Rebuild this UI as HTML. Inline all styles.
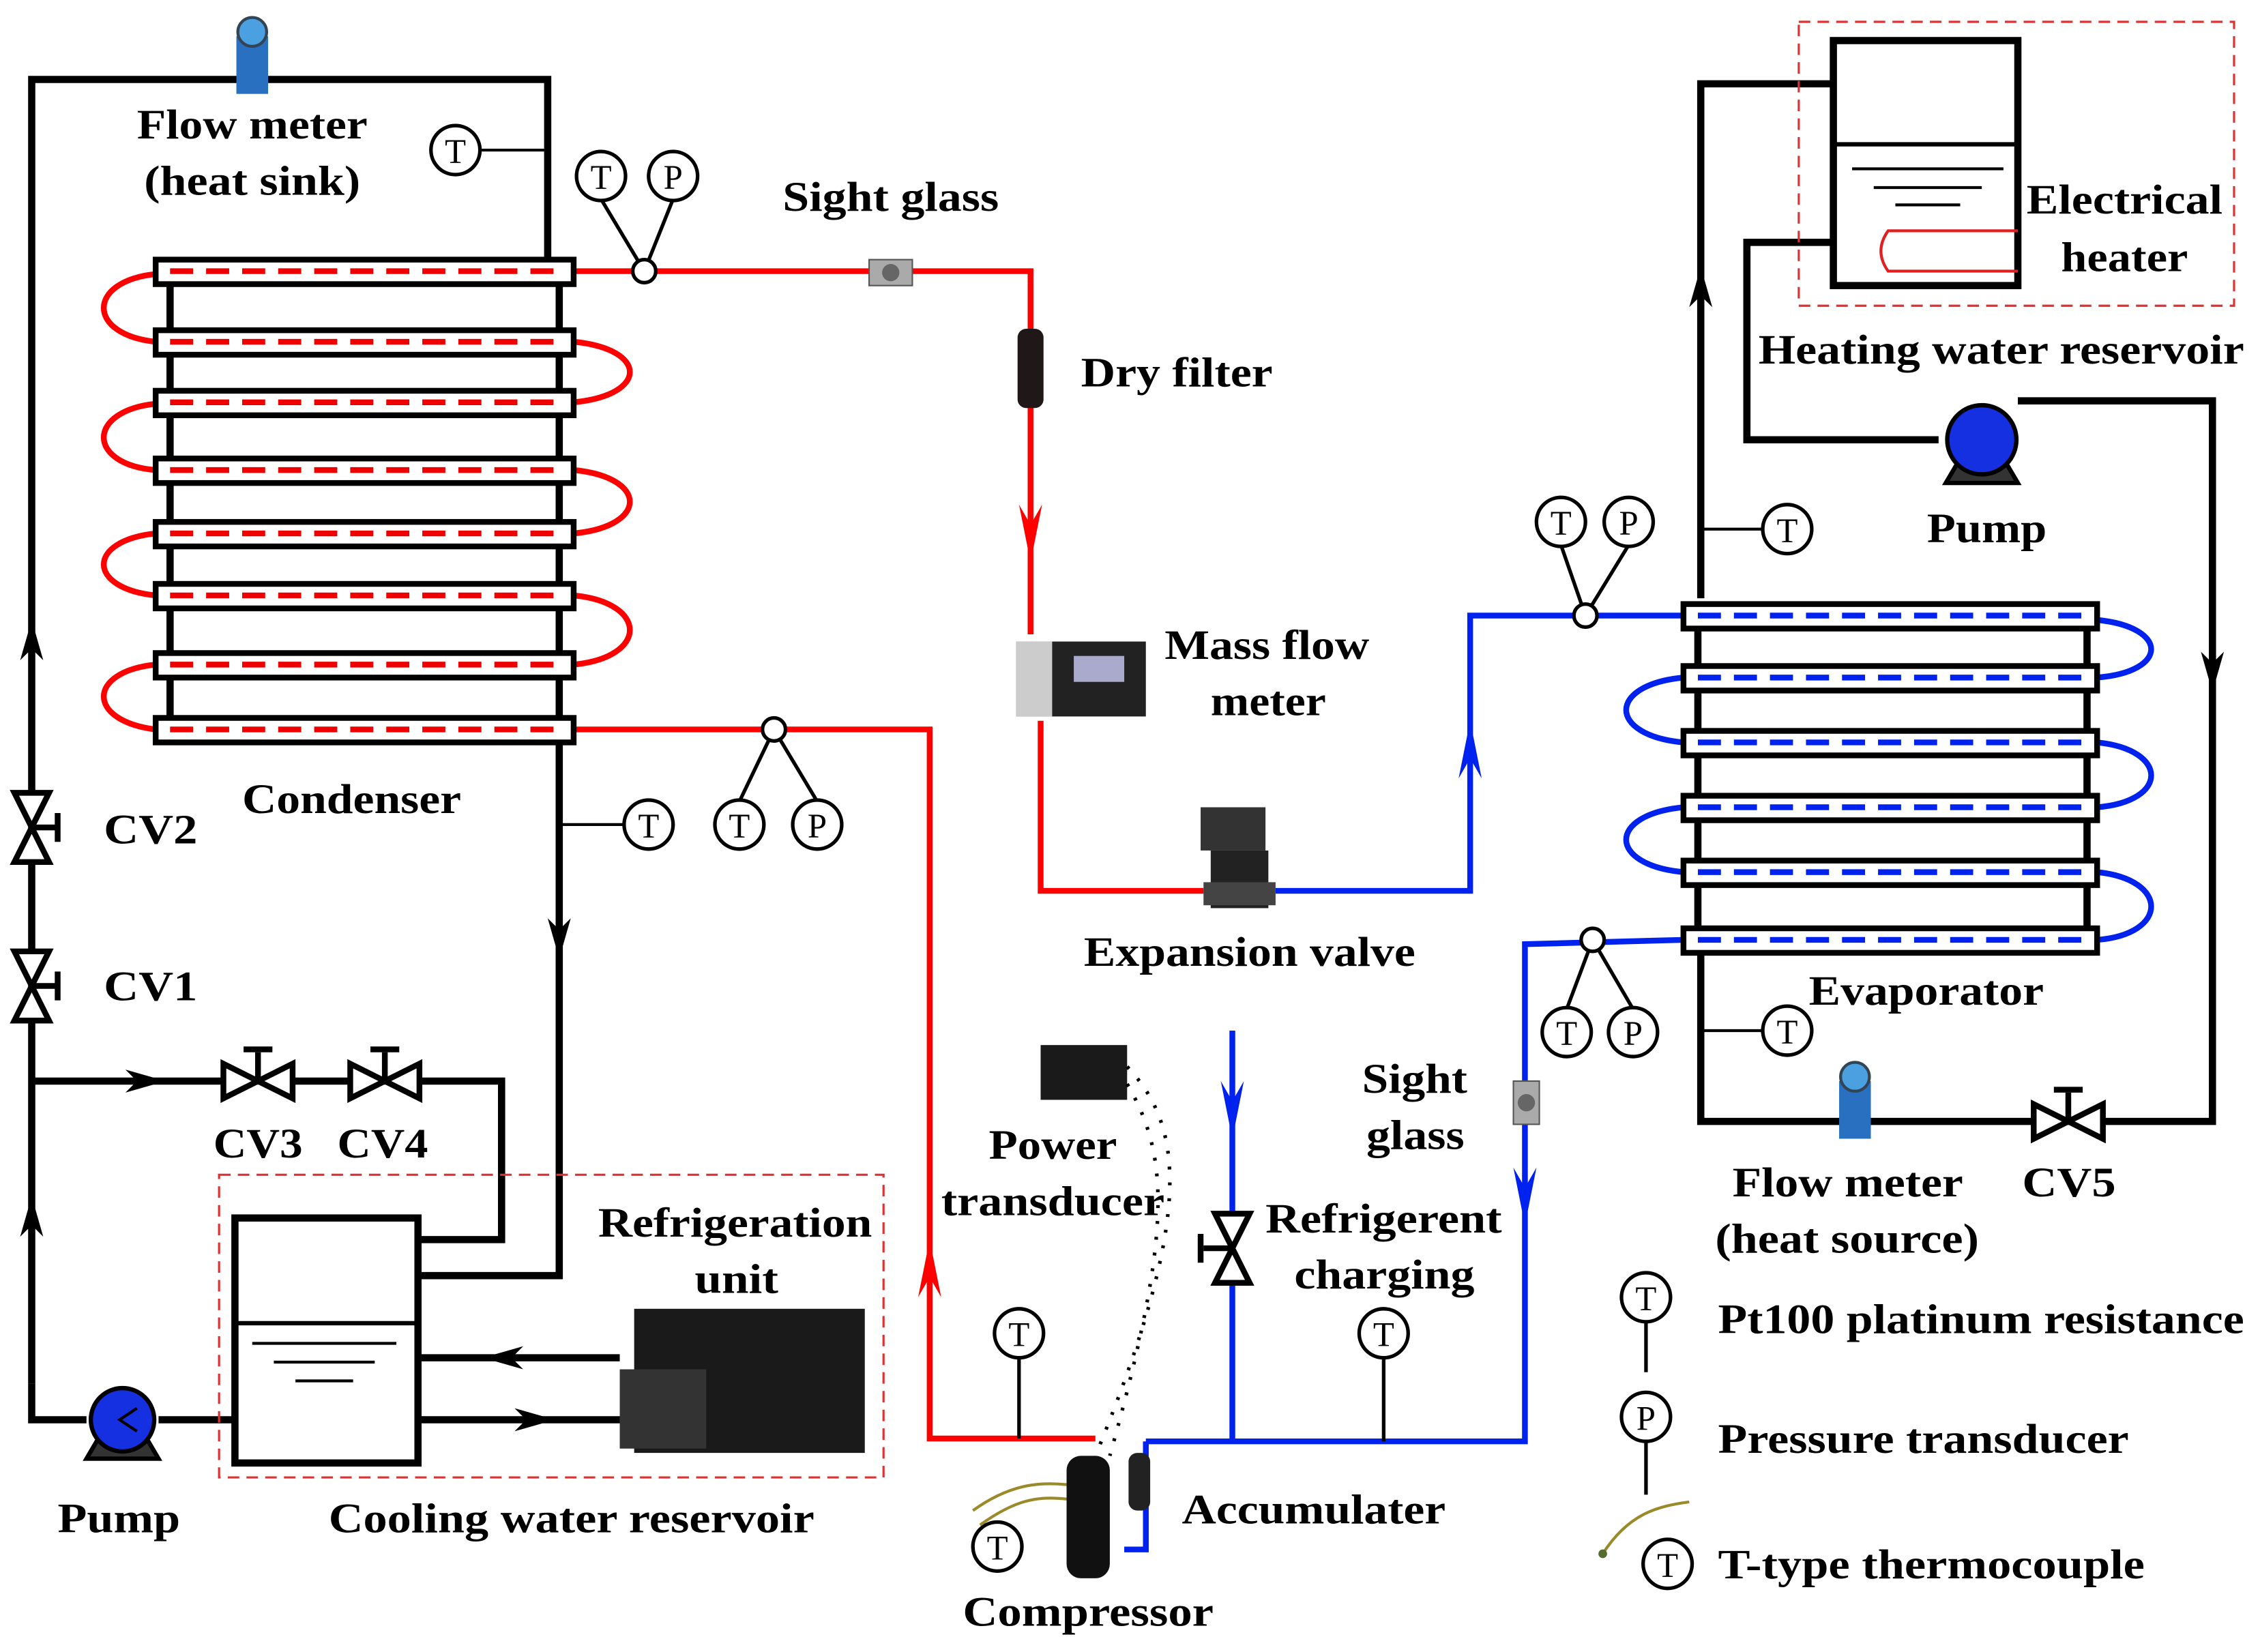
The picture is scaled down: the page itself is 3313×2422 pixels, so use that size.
<!DOCTYPE html>
<html><head><meta charset="utf-8"><style>html,body{margin:0;padding:0;background:#fff}svg{display:block}</style></head><body>
<svg width="3313" height="2422" viewBox="0 0 1568 1146" xmlns="http://www.w3.org/2000/svg" font-family="Liberation Serif, serif" font-weight="bold" font-size="29">
<g fill="none" stroke="#000" stroke-width="5">
<polyline points="22,960 22,55 380,55 380,180"/>
<line x1="316" y1="104" x2="380" y2="104" stroke-width="2"/>
<polyline points="388,515 388,885 290,885"/>
<line x1="388" y1="572" x2="432" y2="572" stroke-width="2"/>
<polyline points="22,750 348,750 348,860 290,860"/>
<polyline points="22,960 22,985 60,985"/>
<line x1="110" y1="985" x2="163" y2="985"/>
<rect x="163" y="845" width="127" height="170"/>
<line x1="163" y1="918" x2="290" y2="918" stroke-width="3"/>
<line x1="290" y1="942" x2="430" y2="942"/>
<line x1="290" y1="985" x2="430" y2="985"/>
<polyline points="1180,415 1180,58 1272,58"/>
<line x1="1180" y1="367" x2="1222" y2="367" stroke-width="2"/>
<polyline points="1272,168 1212,168 1212,305 1345,305"/>
<polyline points="1400,278 1535,278 1535,778 1180,778 1180,660"/>
<line x1="1180" y1="715" x2="1222" y2="715" stroke-width="2"/>
<rect x="1272" y="28" width="128" height="170"/>
<line x1="1272" y1="100" x2="1400" y2="100" stroke-width="3"/>
<line x1="118" y1="188" x2="118" y2="506"/><line x1="388" y1="188" x2="388" y2="506"/>
<line x1="1178" y1="427" x2="1178" y2="652"/><line x1="1448" y1="427" x2="1448" y2="652"/>
</g>
<g stroke="#000" stroke-width="2">
<line x1="1285" y1="117" x2="1390" y2="117"/><line x1="1300" y1="130" x2="1375" y2="130"/><line x1="1315" y1="142" x2="1360" y2="142"/>
<line x1="175" y1="932" x2="275" y2="932"/><line x1="190" y1="945" x2="260" y2="945"/><line x1="205" y1="958" x2="245" y2="958"/>
</g>
<path d="M1400,160 H1310 Q1300,174 1310,188 H1400" fill="none" stroke="#e02020" stroke-width="2"/>
<g fill="none" stroke="#e03030" stroke-width="1.5" stroke-dasharray="8,5">
<rect x="152" y="815" width="461" height="210"/><rect x="1248" y="15" width="302" height="197"/>
</g>
<g fill="#000">
<path d="M22,430 l-8,28 l8,-8 l8,8z"/><path d="M22,830 l-8,28 l8,-8 l8,8z"/>
<path d="M115,750 l-28,-8 l8,8 l-8,8z"/><path d="M388,665 l-8,-28 l8,8 l8,-8z"/>
<path d="M335,942 l28,-8 l-8,8 l8,8z"/><path d="M385,985 l-28,-8 l8,8 l-8,8z"/>
<path d="M1180,185 l-8,28 l8,-8 l8,8z"/><path d="M1535,480 l-8,-28 l8,8 l8,-8z"/>
</g>
<g fill="none" stroke="#f00" stroke-width="4">
<polyline points="398,188 715,188 715,440"/>
<polyline points="722,500 722,618 835,618"/>
<polyline points="398,506 645,506 645,998 760,998"/>
<path d="M108,190 C60,195 60,232 108,237"/><path d="M108,280 C60,285 60,322 108,326"/><path d="M108,370 C60,375 60,408 108,413"/><path d="M108,461 C60,466 60,500 108,506"/>
<path d="M398,237 C450,242 450,274 398,279"/><path d="M398,326 C450,331 450,365 398,370"/><path d="M398,413 C450,418 450,456 398,461"/>
</g>
<path d="M715,390 l-8,-40 l8,14 l8,-14z" fill="#f00"/><path d="M645,860 l-8,40 l8,-14 l8,14z" fill="#f00"/>
<g fill="none" stroke="#0022ee" stroke-width="4">
<polyline points="885,618 1020,618 1020,427 1168,427"/>
<polyline points="795,1000 1058,1000 1058,655 1168,652"/>
<polyline points="855,715 855,1000"/>
<path d="M795,1000 V1075 H780"/>
<path d="M1455,430 C1505,435 1505,466 1455,470"/><path d="M1455,515 C1505,520 1505,556 1455,560"/><path d="M1455,605 C1505,610 1505,648 1455,652"/>
<path d="M1168,470 C1115,475 1115,510 1168,515"/><path d="M1168,560 C1115,565 1115,600 1168,605"/>
</g>
<g fill="#0022ee"><path d="M1020,500 l-8,40 l8,-14 l8,14z"/><path d="M1058,850 l-8,-40 l8,14 l8,-14z"/><path d="M855,790 l-8,-40 l8,14 l8,-14z"/></g>
<g fill="#fff" stroke="#000" stroke-width="4">
<rect x="108" y="180" width="290" height="17"/><rect x="108" y="229" width="290" height="17"/><rect x="108" y="271" width="290" height="17"/><rect x="108" y="318" width="290" height="17"/><rect x="108" y="362" width="290" height="17"/><rect x="108" y="405" width="290" height="17"/><rect x="108" y="453" width="290" height="17"/><rect x="108" y="498" width="290" height="17"/>
<rect x="1168" y="419" width="287" height="17"/><rect x="1168" y="462" width="287" height="17"/><rect x="1168" y="507" width="287" height="17"/><rect x="1168" y="552" width="287" height="17"/><rect x="1168" y="597" width="287" height="17"/><rect x="1168" y="644" width="287" height="17"/>
</g>
<g stroke="#e00" stroke-width="4" stroke-dasharray="16,9">
<line x1="118" y1="188" x2="390" y2="188"/><line x1="118" y1="237" x2="390" y2="237"/><line x1="118" y1="279" x2="390" y2="279"/><line x1="118" y1="326" x2="390" y2="326"/><line x1="118" y1="370" x2="390" y2="370"/><line x1="118" y1="413" x2="390" y2="413"/><line x1="118" y1="461" x2="390" y2="461"/><line x1="118" y1="506" x2="390" y2="506"/>
</g>
<g stroke="#0022ee" stroke-width="4" stroke-dasharray="16,9">
<line x1="1178" y1="427" x2="1448" y2="427"/><line x1="1178" y1="470" x2="1448" y2="470"/><line x1="1178" y1="515" x2="1448" y2="515"/><line x1="1178" y1="560" x2="1448" y2="560"/><line x1="1178" y1="605" x2="1448" y2="605"/><line x1="1178" y1="652" x2="1448" y2="652"/>
</g>
<g fill="#fff" stroke="#000" stroke-width="2.5">
<line x1="447" y1="188" x2="417" y2="138"/><line x1="447" y1="188" x2="467" y2="138"/><circle cx="447" cy="188" r="8"/>
<line x1="537" y1="506" x2="513" y2="556"/><line x1="537" y1="506" x2="567" y2="556"/><circle cx="537" cy="506" r="8"/>
<line x1="1100" y1="427" x2="1083" y2="378"/><line x1="1100" y1="427" x2="1130" y2="378"/><circle cx="1100" cy="427" r="8"/>
<line x1="1105" y1="652" x2="1087" y2="700"/><line x1="1105" y1="652" x2="1133" y2="700"/><circle cx="1105" cy="652" r="8"/>
<line x1="707" y1="940" x2="707" y2="998"/><line x1="960" y1="940" x2="960" y2="1000"/>
<line x1="1142" y1="915" x2="1142" y2="952"/><line x1="1142" y1="998" x2="1142" y2="1037"/>
</g>
<g fill="#fff" stroke="#000" stroke-width="2.5">
<circle cx="316" cy="104" r="17"/><circle cx="417" cy="122" r="17"/><circle cx="467" cy="122" r="17"/><circle cx="450" cy="572" r="17"/><circle cx="513" cy="572" r="17"/><circle cx="567" cy="572" r="17"/><circle cx="707" cy="925" r="17"/><circle cx="960" cy="925" r="17"/><circle cx="692" cy="1073" r="17"/><circle cx="1083" cy="362" r="17"/><circle cx="1130" cy="362" r="17"/><circle cx="1240" cy="367" r="17"/><circle cx="1087" cy="716" r="17"/><circle cx="1133" cy="716" r="17"/><circle cx="1240" cy="715" r="17"/><circle cx="1142" cy="900" r="17"/><circle cx="1142" cy="983" r="17"/><circle cx="1157" cy="1085" r="17"/>
</g>
<g font-size="24" font-weight="normal" text-anchor="middle" fill="#000">
<text x="316" y="113">T</text><text x="417" y="131">T</text><text x="467" y="131">P</text><text x="450" y="581">T</text><text x="513" y="581">T</text><text x="567" y="581">P</text><text x="707" y="934">T</text><text x="960" y="934">T</text><text x="692" y="1082">T</text><text x="1083" y="371">T</text><text x="1130" y="371">P</text><text x="1240" y="376">T</text><text x="1087" y="725">T</text><text x="1133" y="725">P</text><text x="1240" y="724">T</text><text x="1142" y="909">T</text><text x="1142" y="992">P</text><text x="1157" y="1094">T</text>
</g>
<path d="M1112,1078 C1130,1050 1150,1045 1172,1042" fill="none" stroke="#9a8a2a" stroke-width="2"/><circle cx="1112" cy="1078" r="3" fill="#556b2f"/>
<path d="M675,1048 C700,1030 720,1028 740,1030 M680,1058 C705,1040 720,1038 740,1040" fill="none" stroke="#9a8a2a" stroke-width="2"/>
<g fill="#fff" stroke="#000" stroke-width="4">
<path d="M10,550 L34,550 L10,598 L34,598z"/><line x1="22" y1="574" x2="40" y2="574"/><line x1="40" y1="564" x2="40" y2="584"/>
<path d="M10,660 L34,660 L10,708 L34,708z"/><line x1="22" y1="684" x2="40" y2="684"/><line x1="40" y1="674" x2="40" y2="694"/>
<path d="M155,738 L155,762 L203,738 L203,762z"/><line x1="179" y1="750" x2="179" y2="730"/><line x1="169" y1="728" x2="189" y2="728"/>
<path d="M243,738 L243,762 L291,738 L291,762z"/><line x1="267" y1="750" x2="267" y2="730"/><line x1="257" y1="728" x2="277" y2="728"/>
<path d="M1411,766 L1411,790 L1459,766 L1459,790z"/><line x1="1435" y1="778" x2="1435" y2="758"/><line x1="1425" y1="756" x2="1445" y2="756"/>
<path d="M843,842 L867,842 L843,890 L867,890z"/><line x1="855" y1="866" x2="835" y2="866"/><line x1="833" y1="856" x2="833" y2="876"/>
</g>
<g stroke="#000" stroke-width="3">
<path d="M60,1012 L110,1012 L100,995 L70,995z" fill="#333"/><circle cx="85" cy="985" r="22" fill="#1530e0"/>
<path d="M1350,335 L1400,335 L1390,318 L1360,318z" fill="#333"/><circle cx="1375" cy="305" r="24" fill="#1530e0"/>
</g>
<path d="M95,977 l-12,8 l12,8" fill="none" stroke="#000" stroke-width="2"/>
<g>
<rect x="164" y="25" width="22" height="40" fill="#2a70c0"/><circle cx="175" cy="22" r="10" fill="#4aa0e0" stroke="#345" stroke-width="2"/>
<rect x="1276" y="750" width="22" height="40" fill="#2a70c0"/><circle cx="1287" cy="747" r="10" fill="#4aa0e0" stroke="#345" stroke-width="2"/>
<rect x="603" y="180" width="30" height="18" fill="#aaa" stroke="#555"/><circle cx="618" cy="189" r="6" fill="#666"/>
<rect x="1050" y="750" width="18" height="30" fill="#aaa" stroke="#555"/><circle cx="1059" cy="765" r="6" fill="#666"/>
<rect x="706" y="228" width="18" height="55" rx="6" fill="#201818"/>
<rect x="705" y="445" width="90" height="52" fill="#222"/><rect x="705" y="445" width="25" height="52" fill="#ccc"/><rect x="745" y="455" width="35" height="18" fill="#aac"/>
<rect x="833" y="560" width="45" height="30" fill="#333"/><rect x="840" y="590" width="40" height="40" fill="#222"/><rect x="835" y="612" width="50" height="16" fill="#444"/>
<rect x="722" y="725" width="60" height="38" fill="#1a1a1a"/>
<rect x="740" y="1010" width="30" height="85" rx="10" fill="#111"/><rect x="783" y="1008" width="15" height="40" rx="6" fill="#222"/>
<rect x="440" y="908" width="160" height="100" fill="#1a1a1a"/><rect x="430" y="950" width="60" height="55" fill="#333"/>
</g>
<path d="M782,740 C820,780 830,840 760,1010 M782,752 C810,800 815,850 770,1010" fill="none" stroke="#000" stroke-width="2.5" stroke-dasharray="2,9"/>
<g fill="#000" lengthAdjust="spacingAndGlyphs">
<text x="95" y="96" textLength="160" lengthAdjust="spacingAndGlyphs">Flow meter</text><text x="100" y="135" textLength="150" lengthAdjust="spacingAndGlyphs">(heat sink)</text>
<text x="543" y="146" textLength="150" lengthAdjust="spacingAndGlyphs">Sight glass</text>
<text x="750" y="268" textLength="133" lengthAdjust="spacingAndGlyphs">Dry filter</text>
<text x="808" y="457" textLength="142" lengthAdjust="spacingAndGlyphs">Mass flow</text><text x="840" y="496" textLength="80" lengthAdjust="spacingAndGlyphs">meter</text>
<text x="168" y="564" textLength="152" lengthAdjust="spacingAndGlyphs">Condenser</text>
<text x="72" y="585" textLength="65" lengthAdjust="spacingAndGlyphs">CV2</text><text x="72" y="694" textLength="65" lengthAdjust="spacingAndGlyphs">CV1</text>
<text x="148" y="803" textLength="62" lengthAdjust="spacingAndGlyphs">CV3</text><text x="234" y="803" textLength="63" lengthAdjust="spacingAndGlyphs">CV4</text>
<text x="752" y="670" textLength="230" lengthAdjust="spacingAndGlyphs">Expansion valve</text>
<text x="415" y="858" textLength="190" lengthAdjust="spacingAndGlyphs">Refrigeration</text><text x="482" y="897" textLength="58" lengthAdjust="spacingAndGlyphs">unit</text>
<text x="686" y="804" textLength="89" lengthAdjust="spacingAndGlyphs">Power</text><text x="653" y="843" textLength="155" lengthAdjust="spacingAndGlyphs">transducer</text>
<text x="878" y="855" textLength="164" lengthAdjust="spacingAndGlyphs">Refrigerent</text><text x="898" y="894" textLength="125" lengthAdjust="spacingAndGlyphs">charging</text>
<text x="945" y="758" textLength="73" lengthAdjust="spacingAndGlyphs">Sight</text><text x="948" y="797" textLength="68" lengthAdjust="spacingAndGlyphs">glass</text>
<text x="40" y="1063" textLength="85" lengthAdjust="spacingAndGlyphs">Pump</text>
<text x="228" y="1063" textLength="337" lengthAdjust="spacingAndGlyphs">Cooling water reservoir</text>
<text x="668" y="1128" textLength="174" lengthAdjust="spacingAndGlyphs">Compressor</text>
<text x="820" y="1057" textLength="183" lengthAdjust="spacingAndGlyphs">Accumulater</text>
<text x="1255" y="697" textLength="163" lengthAdjust="spacingAndGlyphs">Evaporator</text>
<text x="1202" y="830" textLength="160" lengthAdjust="spacingAndGlyphs">Flow meter</text><text x="1190" y="869" textLength="183" lengthAdjust="spacingAndGlyphs">(heat source)</text>
<text x="1403" y="830" textLength="65" lengthAdjust="spacingAndGlyphs">CV5</text>
<text x="1337" y="376" textLength="83" lengthAdjust="spacingAndGlyphs">Pump</text>
<text x="1220" y="252" textLength="337" lengthAdjust="spacingAndGlyphs">Heating water reservoir</text>
<text x="1406" y="148" textLength="136" lengthAdjust="spacingAndGlyphs">Electrical</text><text x="1430" y="188" textLength="88" lengthAdjust="spacingAndGlyphs">heater</text>
<text x="1192" y="925" textLength="365" lengthAdjust="spacingAndGlyphs">Pt100 platinum resistance</text>
<text x="1192" y="1008" textLength="285" lengthAdjust="spacingAndGlyphs">Pressure transducer</text>
<text x="1192" y="1095" textLength="296" lengthAdjust="spacingAndGlyphs">T-type thermocouple</text>
</g>
</svg>
</body></html>
